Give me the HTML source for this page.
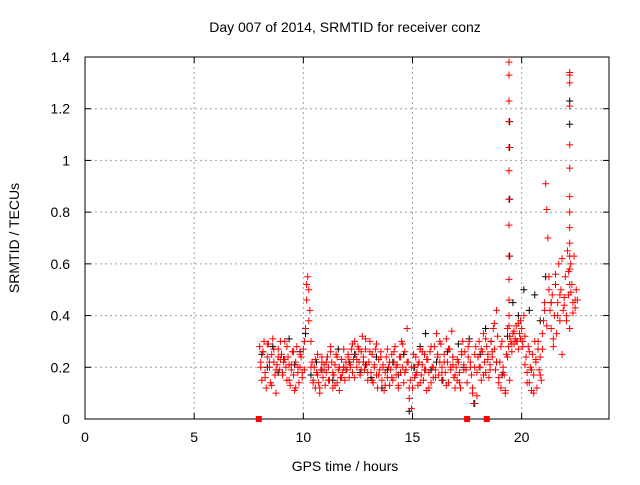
<!DOCTYPE html>
<html><head><meta charset="utf-8"><style>
body{margin:0;background:#fff}
svg text{font-family:"Liberation Sans",sans-serif;font-size:14px;fill:#000}
</style></head><body>
<svg id="c" width="640" height="480"></svg>
<script>
const redValsA=[0.28,0.22,0.15,0.26,0.30,0.18,0.12,0.24,0.29,0.20,0.14,0.25,0.31,0.22,0.17,0.10,0.21,0.27,0.19,0.23,
0.25,0.18,0.22,0.30,0.20,0.15,0.24,0.21,0.13,0.19,0.26,0.17,0.11,0.22,0.28,0.18,0.14,0.20,0.24,0.16,
0.27,0.19,0.35,0.46,0.55,0.50,0.42,0.30,0.22,0.15,0.20,0.12,0.18,0.25,0.14,0.10,0.19,0.22,0.16,0.21,
0.13,0.18,0.24,0.20,0.15,0.28,0.22,0.12,0.17,0.21,0.25,0.14,0.19,0.11,0.16,0.23,0.18,0.20,0.15,0.22,
0.19,0.24,0.16,0.21,0.27,0.18,0.23,0.30,0.25,0.20,0.28,0.22,0.17,0.26,0.32,0.24,0.19,0.27,0.21,0.15,
0.22,0.30,0.18,0.25,0.14,0.20,0.27,0.17,0.12,0.23,0.19,0.26,0.15,0.21,0.11,0.18,0.24,0.16,0.20,0.13,
0.19,0.25,0.15,0.22,0.28,0.17,0.21,0.12,0.24,0.18,0.30,0.20,0.14,0.26,0.19,0.35,0.22,0.08,0.15,0.04,
0.12,0.20,0.16,0.24,0.18,0.13,0.22,0.27,0.17,0.21,0.15,0.25,0.19,0.11,0.23,0.18,0.26,0.14,0.20,0.16,
0.28,0.19,0.33,0.24,0.17,0.22,0.29,0.20,0.15,0.25,0.18,0.31,0.22,0.14,0.27,0.19,0.34,0.21,0.16,0.12,
0.20,0.15,0.22,0.18,0.12,0.25,0.30,0.21,0.26,0.19,0.14,0.24,0.30,0.22,0.17,0.10,0.06,0.20,0.28,0.18,
0.24,0.30,0.20,0.15,0.26,0.33,0.22,0.18,0.28,0.25,0.16,0.21,0.30,0.24,0.35,0.27,0.19,0.42,0.32,0.14,
0.22,0.12,0.30,0.20,0.17,0.10,0.25,0.35,0.28,0.15,0.30,0.26,0.33,0.29,0.31,0.36,0.30,0.27,0.33,0.38,
0.35,0.30,0.40,0.32,0.24,0.18,0.28,0.14,0.20,0.11,0.25,0.17,0.30,0.22,0.12,0.27,0.19,0.24,0.15,0.33,
0.38,0.45,0.91,0.81,0.70,0.55,0.42,0.35,0.48,0.28,0.40,0.52,0.33,0.45,0.60,0.38,0.50,0.25,0.42,0.47,
0.55,0.40,0.65,0.48,0.35,0.60,0.52,0.45,0.63,0.43,0.50,0.46];
const redStartA=8.0, redStepA=0.05;
const redValsB=[0.20,0.26,0.16,0.29,0.22,0.13,0.27,0.19,0.24,0.30,
0.17,0.23,0.28,0.15,0.21,0.26,0.12,0.20,0.25,0.18,
0.30,0.52,0.38,0.20,0.14,0.23,0.17,0.12,0.24,0.19,
0.22,0.15,0.26,0.18,0.13,0.24,0.20,0.16,0.27,0.19,
0.25,0.20,0.29,0.16,0.23,0.27,0.19,0.22,0.31,0.18,
0.26,0.15,0.21,0.29,0.17,0.24,0.20,0.13,0.27,0.22,
0.16,0.26,0.20,0.13,0.24,0.29,0.18,0.22,0.12,0.20,
0.25,0.17,0.21,0.14,0.26,0.19,0.23,0.12,0.28,0.20,
0.16,0.25,0.30,0.18,0.22,0.13,0.27,0.20,0.24,0.17,
0.23,0.14,0.26,0.19,null,0.28,0.20,0.12,0.25,0.09,
0.20,0.27,0.17,0.31,0.23,0.19,0.26,0.37,0.22,0.16,
0.28,0.18,0.11,0.24,0.32,0.29,0.34,0.30,0.37,0.31,
0.28,0.21,0.14,0.26,0.19,0.10,0.23,0.30,0.17,0.27,
0.42,0.36,0.50,0.45,0.31,0.56,0.40,0.48,0.62,0.44,
0.38,0.57,0.49,0.41,0.46];
const redStartB=8.05, redStepB=0.1;
const redSpikeTimes=[19.42,19.42,19.42,19.42,19.42,19.42,19.42,19.42,19.42,19.42,19.42,19.42,19.42,22.2,22.2,22.2,22.2,22.2,22.2,22.2,22.2,22.2,22.2,22.2,22.2,22.2];
const redSpikeVals=[1.38,1.33,1.23,1.15,1.05,0.96,0.85,0.75,0.63,0.54,0.46,0.40,0.36,1.34,1.33,1.30,1.21,1.06,0.97,0.86,0.80,0.74,0.68,0.63,0.58,0.52];
const blackVals=[0.25,0.20,0.28,0.18,0.23,0.31,0.21,0.26,0.33,0.17,0.22,0.19,0.24,0.15,0.27,0.20,0.22,0.25,0.18,0.21,0.16,0.24,0.12,0.19,0.22,0.17,0.25,0.03,0.20,0.28,0.33,0.19,0.22,0.15,0.26,0.24,0.29,0.20,0.31,0.06,0.25,0.35,0.30,0.22,0.17,0.32,0.45,0.40,0.50,0.42,0.48,0.38,0.55,0.45];
const blackStart=8.1, blackStep=0.25;
const blackSpikeTimes=[19.45,19.45,19.45,19.45,22.2,22.2];
const blackSpikeVals=[1.15,1.05,0.85,0.63,1.23,1.14];
const zeroTimes=[7.96,17.5,18.4];
const xTicks=[0,5,10,15,20];
const yTicks=[0,0.2,0.4,0.6,0.8,1,1.2,1.4];
const yTickLabels=["0","0.2","0.4","0.6","0.8","1","1.2","1.4"];

const L=85,R=609,T=57,B=419;
const xs=v=>L+(v/24)*(R-L);
const ys=v=>B-(v/1.4)*(B-T);
const svg=document.getElementById('c');
const NS='http://www.w3.org/2000/svg';
function mk(tag,attrs,parent){const e=document.createElementNS(NS,tag);for(const k in attrs)e.setAttribute(k,attrs[k]);(parent||svg).appendChild(e);return e;}

const grid=mk('g',{});


xTicks.forEach(t=>{if(t>0)mk('line',{x1:xs(t),x2:xs(t),y1:T,y2:B,stroke:'#a0a0a0','stroke-dasharray':'2,3'},grid);});
yTicks.forEach(t=>{if(t>0&&t<1.4)mk('line',{x1:L,x2:R,y1:ys(t),y2:ys(t),stroke:'#a0a0a0','stroke-dasharray':'2,3'},grid);});

const axes=mk('g',{});


mk('rect',{x:L,y:T,width:R-L,height:B-T,fill:'none',stroke:'#000'},axes);
xTicks.forEach(t=>{
 mk('line',{x1:xs(t),x2:xs(t),y1:B,y2:B-6,stroke:'#000'},axes);
 mk('line',{x1:xs(t),x2:xs(t),y1:T,y2:T+6,stroke:'#000'},axes);
 const tx=mk('text',{x:xs(t),y:442,'text-anchor':'middle'},axes);tx.textContent=t;
 
 
});
yTicks.forEach((t,i)=>{
 mk('line',{x1:L,x2:L+6,y1:ys(t),y2:ys(t),stroke:'#000'},axes);
 mk('line',{x1:R,x2:R-6,y1:ys(t),y2:ys(t),stroke:'#000'},axes);
 const tx=mk('text',{x:70,y:ys(t)+5,'text-anchor':'end'},axes);tx.textContent=yTickLabels[i];
 
 
});

function plus(g,t,v,col){if(v===null)return;const x=xs(t),y=ys(v);
 mk('path',{d:`M${x-3.5},${y}H${x+3.5}M${x},${y-3.5}V${y+3.5}`,stroke:col,'stroke-width':1,fill:'none'},g);}

const bs=mk('g',{});


blackVals.forEach((v,i)=>plus(bs,blackStart+i*blackStep,v,'#000'));
blackSpikeVals.forEach((v,i)=>plus(bs,blackSpikeTimes[i],v,'#000'));

const rs=mk('g',{});


redValsA.forEach((v,i)=>plus(rs,redStartA+i*redStepA,v,'#ff0000'));
redValsB.forEach((v,i)=>plus(rs,redStartB+i*redStepB,v,'#ff0000'));
redSpikeVals.forEach((v,i)=>plus(rs,redSpikeTimes[i],v,'#ff0000'));
zeroTimes.forEach(t=>{const r=mk('rect',{x:xs(t)-3,y:B-3,width:6,height:6,fill:'#ff0000'},rs);
 
 });

const title=mk('text',{x:345,y:32,'text-anchor':'middle'});title.textContent='Day 007 of 2014, SRMTID for receiver conz';


const xt=mk('text',{x:345,y:471,'text-anchor':'middle'});xt.textContent='GPS time / hours';


const yt=mk('text',{x:0,y:0,'text-anchor':'middle',transform:'translate(19,238) rotate(-90)'});yt.textContent='SRMTID / TECUs';


</script>
</body></html>
